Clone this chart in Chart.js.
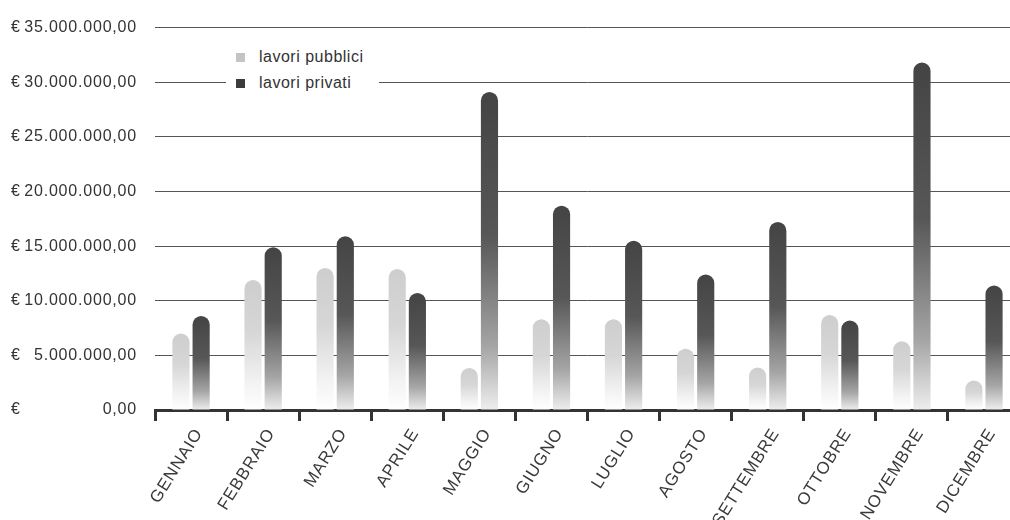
<!DOCTYPE html>
<html>
<head>
<meta charset="utf-8">
<script src="https://cdn.jsdelivr.net/npm/chart.js@4/dist/chart.umd.min.js"></script>
<style>
  html, body { margin: 0; padding: 0; background: #fff; overflow: hidden; }
  #wrap { position: relative; width: 1020px; height: 520px; }
  #legend {
    position: absolute;
    left: 226px;
    top: 43px;
    background: #fff;
    padding: 1px 16px 1px 10px;
    font: 16px "Liberation Sans", Arial, sans-serif;
    letter-spacing: 0.5px;
    color: #333;
    line-height: 26px;
  }
  #legend .item { display: flex; align-items: center; }
  #legend .box { width: 9px; height: 9px; margin-right: 14px; }
</style>
</head>
<body>
<div id="wrap">
  <canvas id="chart"></canvas>
  <div id="legend"></div>
</div>
<script>
const MONTHS = [
  "GENNAIO", "FEBBRAIO", "MARZO", "APRILE", "MAGGIO", "GIUGNO",
  "LUGLIO", "AGOSTO", "SETTEMBRE", "OTTOBRE", "NOVEMBRE", "DICEMBRE",
];

const SERIES_NAMES = ["lavori pubblici", "lavori privati"];

const LAVORI_PUBBLICI = [
  7000000, 11900000, 13000000, 12900000, 3850000, 8300000,
  8300000, 5600000, 3900000, 8700000, 6300000, 2700000,
];

const LAVORI_PRIVATI = [
  8600000, 14900000, 15900000, 10700000, 29100000, 18700000,
  15500000, 12400000, 17200000, 8200000, 31800000, 11400000,
];

const Y_TICKS = [0, 5000000, 10000000, 15000000, 20000000, 25000000, 30000000, 35000000];

const FONT = '"Liberation Sans", Arial, sans-serif';
const AXIS_COLOR = "#333";
const LEGEND_COLORS = ["#c4c4c4", "#3c3c3c"];

const PUBBLICI_STOPS = [[0, "#cecece"], [0.4, "#d6d6d6"], [0.8, "#f3f3f3"], [1, "#ffffff"]];
const PRIVATI_STOPS = [[0, "#444444"], [0.45, "#575757"], [0.8, "#a5a5a5"], [1, "#eeeeee"]];

// one vertical gradient per bar, from its top down to zero
function barGradient(context, stops) {
  const chart = context.chart;
  const yScale = chart.scales.y;
  if (context.type !== "data" || !yScale) return stops[0][1];
  const top = yScale.getPixelForValue(context.raw);
  const base = yScale.getPixelForValue(0);
  if (!isFinite(top) || !isFinite(base) || top === base) return stops[0][1];
  const gradient = chart.ctx.createLinearGradient(0, top, 0, base);
  stops.forEach(([offset, color]) => gradient.addColorStop(offset, color));
  return gradient;
}

function formatEuro(value) {
  return value.toLocaleString("it-IT", { minimumFractionDigits: 2, maximumFractionDigits: 2 })
    .replace(/\u00a0/g, "");
}

const spacingPlugin = {
  id: "spacing",
  beforeDraw(chart) {
    chart.ctx.letterSpacing = "0.8px";
  },
};

// euro sign sits in its own column at the far left
const euroPlugin = {
  id: "euroSign",
  afterDraw(chart) {
    const { ctx, scales } = chart;
    ctx.save();
    ctx.font = `16px ${FONT}`;
    ctx.fillStyle = AXIS_COLOR;
    ctx.textAlign = "left";
    ctx.textBaseline = "middle";
    scales.y.ticks.forEach((tick, i) => {
      ctx.fillText("€", 11, scales.y.getPixelForTick(i));
    });
    ctx.restore();
  },
};

function renderLegend() {
  const legend = document.getElementById("legend");
  legend.innerHTML = SERIES_NAMES.map((name, i) =>
    `<div class="item"><span class="box" style="background:${LEGEND_COLORS[i]}"></span>${name}</div>`
  ).join("");
}

function renderChart() {
  const canvas = document.getElementById("chart");
  return new Chart(canvas, {
    type: "bar",
    data: {
      labels: MONTHS,
      datasets: [
        {
          label: SERIES_NAMES[0],
          data: LAVORI_PUBBLICI,
          backgroundColor: (ctx) => barGradient(ctx, PUBBLICI_STOPS),
          borderRadius: 9,
          borderSkipped: "start",
        },
        {
          label: SERIES_NAMES[1],
          data: LAVORI_PRIVATI,
          backgroundColor: (ctx) => barGradient(ctx, PRIVATI_STOPS),
          borderRadius: 9,
          borderSkipped: "start",
        },
      ],
    },
    options: {
      responsive: true,
      maintainAspectRatio: false,
      animation: false,
      categoryPercentage: 0.56,
      barPercentage: 0.85,
      layout: { padding: { top: 26, right: 0, bottom: 0, left: 0 } },
      plugins: {
        legend: { display: false },
        tooltip: { enabled: false },
      },
      scales: {
        x: {
          afterFit(scale) { scale.height = 110; },
          border: { display: true, color: AXIS_COLOR, width: 3 },
          grid: {
            display: true,
            offset: true,
            drawOnChartArea: false,
            drawTicks: true,
            color: AXIS_COLOR,
            lineWidth: 3,
            tickLength: 11,
            tickColor: AXIS_COLOR,
            tickWidth: 3,
          },
          ticks: {
            color: "#3a3a3a",
            font: { family: FONT, size: 17 },
            minRotation: 58,
            maxRotation: 58,
            padding: 4,
            labelOffset: 8,
          },
        },
        y: {
          min: 0,
          max: 35000000,
          afterFit(scale) { scale.width = 155; },
          afterBuildTicks(scale) {
            scale.ticks = Y_TICKS.map((value) => ({ value }));
          },
          border: { display: false },
          grid: { color: "#555", lineWidth: 1, drawTicks: false },
          ticks: {
            color: AXIS_COLOR,
            font: { family: FONT, size: 16 },
            padding: 18,
            callback: (value) => formatEuro(value),
          },
        },
      },
    },
    plugins: [spacingPlugin, euroPlugin],
  });
}

renderLegend();
renderChart();
</script>
</body>
</html>
